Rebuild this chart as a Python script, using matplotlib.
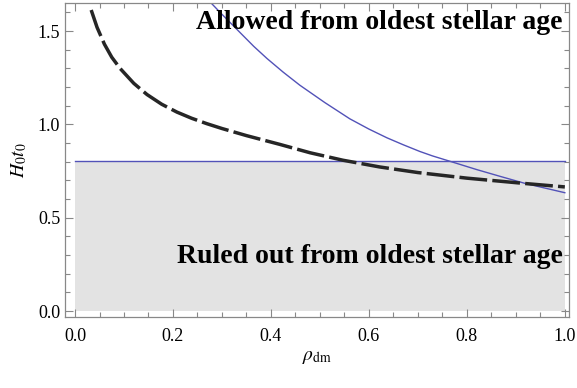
import matplotlib
matplotlib.use('Agg')
import matplotlib.pyplot as plt
from matplotlib.ticker import MultipleLocator

plt.rcParams['font.family'] = ['Liberation Serif', 'DejaVu Serif']
plt.rcParams['mathtext.fontset'] = 'stix'

# dashed black curve
rho_dash = [0.033, 0.045, 0.06, 0.075, 0.092, 0.12, 0.147, 0.177, 0.208, 0.238, 0.269, 0.3,
            0.35, 0.418, 0.48, 0.547, 0.622, 0.7, 0.8, 0.92, 1.0]
h_dash = [1.613, 1.52, 1.43, 1.36, 1.30, 1.22, 1.16, 1.108, 1.066, 1.033, 1.004, 0.978,
          0.94, 0.893, 0.848, 0.808, 0.772, 0.742, 0.712, 0.683, 0.665]
# thin blue curve
rho_blue = [0.278, 0.3, 0.337, 0.365, 0.392, 0.425, 0.459, 0.51, 0.561, 0.6, 0.637, 0.67,
            0.704, 0.73, 0.761, 0.82, 0.87, 0.92, 1.0]
h_blue = [1.65, 1.59, 1.492, 1.418, 1.353, 1.28, 1.21, 1.117, 1.03, 0.975, 0.928, 0.891,
          0.855, 0.831, 0.806, 0.758, 0.72, 0.683, 0.634]
# lower bound from oldest stellar age
h_min = 0.806

fig = plt.figure(figsize=(5.77, 3.88), dpi=100)
ax = fig.add_axes([0.1127, 0.183, 0.873, 0.809])

ax.fill_between([0, 1], 0, h_min, color='#e3e3e3', lw=0)
ax.plot([0, 1], [h_min, h_min], color='#5252b8', lw=1.0)
ax.plot(rho_blue, h_blue, color='#5252b8', lw=1.0)
ax.plot(rho_dash, h_dash, color='#262626', lw=2.5, dashes=(8, 1.5))

ax.text(0.995, 1.545, 'Allowed from oldest stellar age', ha='right', va='center',
        fontsize=20, fontweight='bold')
ax.text(0.995, 0.29, 'Ruled out from oldest stellar age', ha='right', va='center',
        fontsize=20, fontweight='bold')

ax.set_xlim(-0.0204, 1.008)
ax.set_ylim(-0.032, 1.65)
ax.xaxis.set_major_locator(MultipleLocator(0.2))
ax.xaxis.set_minor_locator(MultipleLocator(0.05))
ax.yaxis.set_major_locator(MultipleLocator(0.5))
ax.yaxis.set_minor_locator(MultipleLocator(0.1))
ax.tick_params(which='both', direction='in', top=True, right=True, color='#888888',
               labelsize=13, width=0.8)
ax.tick_params(which='major', length=6)
ax.tick_params(which='minor', length=3.5)
ax.tick_params(axis='x', pad=8)
for s in ax.spines.values():
    s.set_color('#888888')
    s.set_linewidth(0.9)

ax.set_xlabel(r'$\rho_{\rm dm}$', fontsize=14, labelpad=3)
ax.set_ylabel(r'$H_0 t_0$', fontsize=14, labelpad=6)

fig.savefig('out.png', dpi=100)
